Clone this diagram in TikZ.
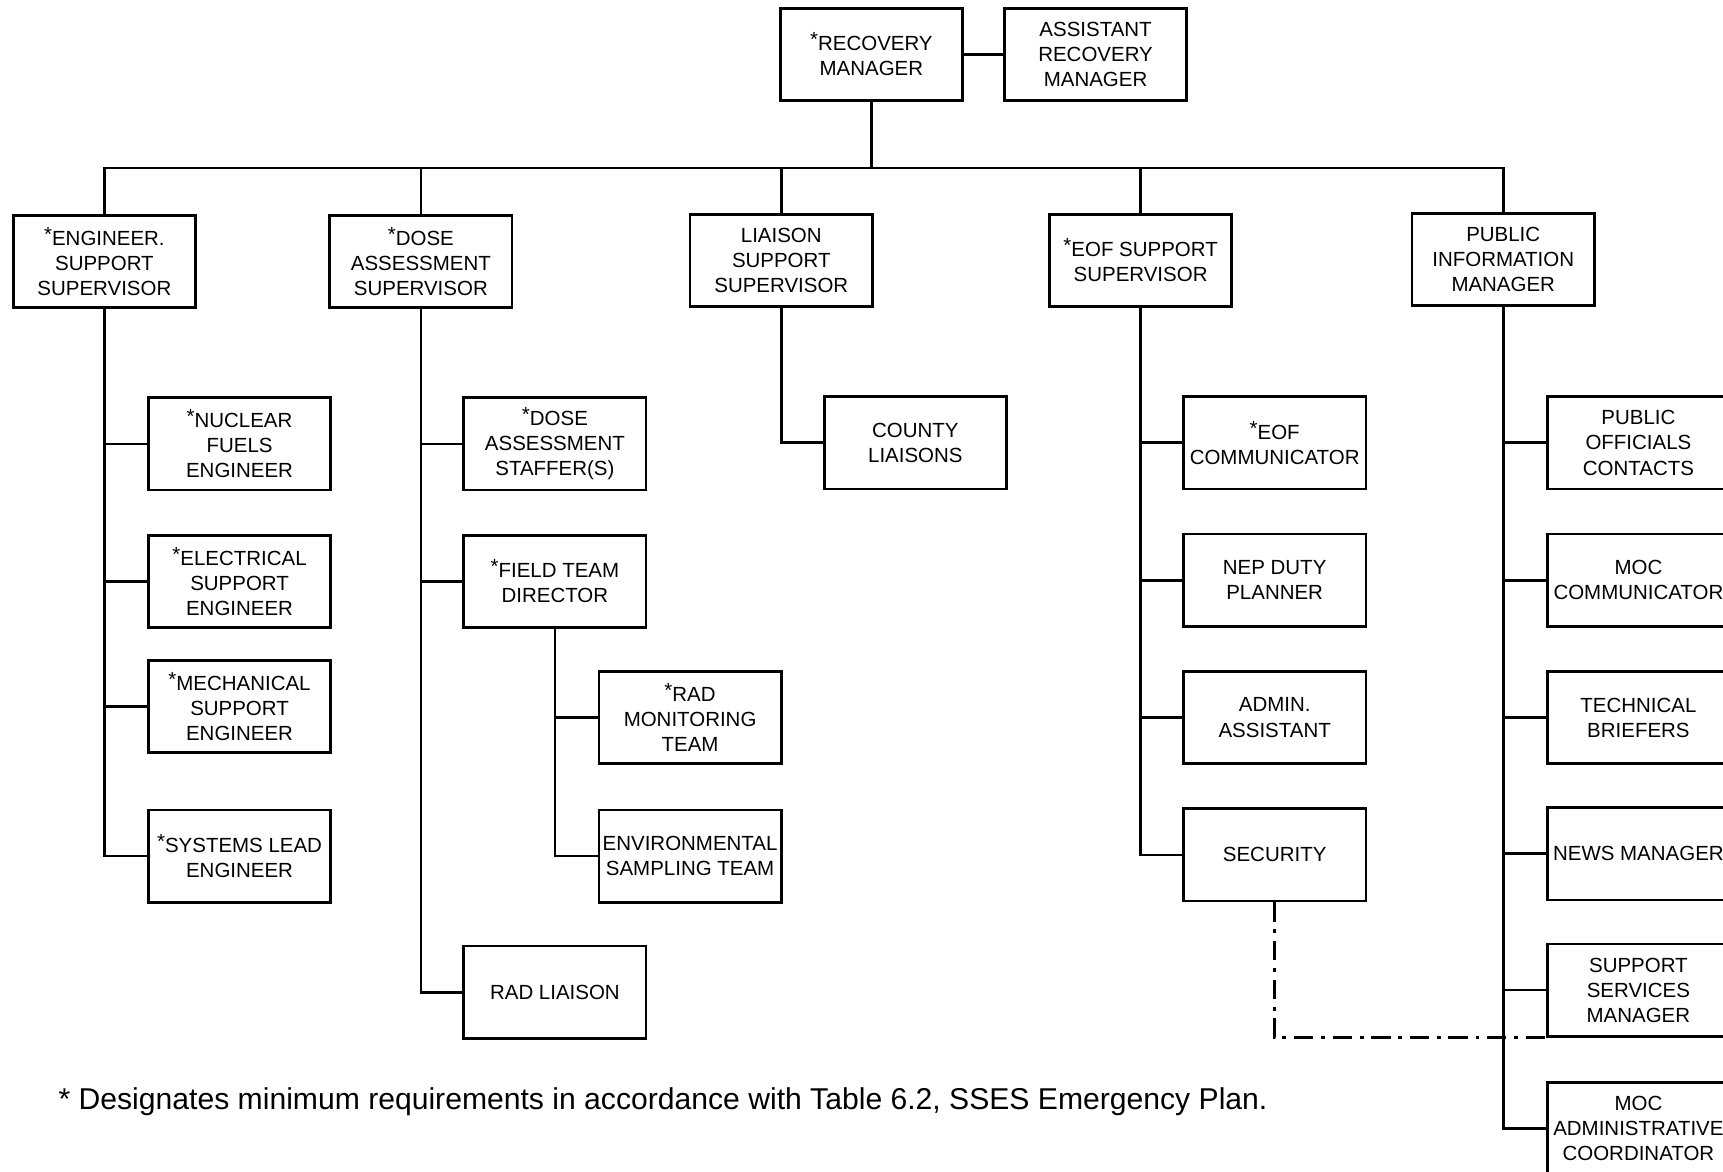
\documentclass[tikz,border=0pt]{standalone}
\usepackage{fontspec}
\setmainfont{Liberation Sans}
\usepackage{tikz}

\newcommand{\req}{\raisebox{0.35ex}{*}}

\begin{document}
\begin{tikzpicture}[x=0.2mm, y=-0.2mm,
        box/.style={draw, line width=1.4pt, minimum width=33.2mm, minimum height=16.8mm,
            inner xsep=1pt, align=center, font=\fontsize{10.6}{13}\selectfont},
        link/.style={line width=1.4pt},
        dotlink/.style={line width=1.4pt, dash pattern=on 10pt off 4pt on 2pt off 4pt}]
        \useasboundingbox (0,0) rectangle (1568,1066);
        \clip (0,0) rectangle (1568,1066);

        % Recovery manager and assistant
        \node[box] (rm) at (793,49.5) {\req RECOVERY\\MANAGER};
        \node[box] (arm) at (997,49.5) {ASSISTANT\\RECOVERY\\MANAGER};
        \draw[link] (rm) -- (arm);
        \coordinate (bus) at (793,153);
        \draw[link] (rm) -- (bus);

        % Supervisors row
        \node[box] (eng) at (95,238) {\req ENGINEER.\\SUPPORT\\SUPERVISOR};
        \node[box] (dose) at (383,238) {\req DOSE\\ASSESSMENT\\SUPERVISOR};
        \node[box] (lss) at (711,237) {LIAISON\\SUPPORT\\SUPERVISOR};
        \node[box] (eofs) at (1038,237) {\req EOF SUPPORT\\SUPERVISOR};
        \node[box] (pim) at (1368,236) {PUBLIC\\INFORMATION\\MANAGER};
        \draw[link] (eng.north) -- (eng.north |- bus) -- (pim.north |- bus) -- (pim.north);
        \draw[link] (dose.north) -- (dose.north |- bus);
        \draw[link] (lss.north) -- (lss.north |- bus);
        \draw[link] (eofs.north) -- (eofs.north |- bus);

        % Engineering column
        \node[box] (nuc) at (218,404) {\req NUCLEAR\\FUELS\\ENGINEER};
        \node[box] (elec) at (218,529) {\req ELECTRICAL\\SUPPORT\\ENGINEER};
        \node[box] (mech) at (218,643) {\req MECHANICAL\\SUPPORT\\ENGINEER};
        \node[box] (sys) at (218,779) {\req SYSTEMS LEAD\\ENGINEER};
        \draw[link] (eng.south) |- (sys.west);
        \draw[link] (nuc.west) -- (nuc.west -| eng.south);
        \draw[link] (elec.west) -- (elec.west -| eng.south);
        \draw[link] (mech.west) -- (mech.west -| eng.south);

        % Dose assessment column
        \node[box] (das) at (505,404) {\req DOSE\\ASSESSMENT\\STAFFER(S)};
        \node[box] (ftd) at (505,529) {\req FIELD TEAM\\DIRECTOR};
        \node[box] (radl) at (505,903) {RAD LIAISON};
        \draw[link] (dose.south) |- (radl.west);
        \draw[link] (das.west) -- (das.west -| dose.south);
        \draw[link] (ftd.west) -- (ftd.west -| dose.south);

        % Field teams
        \node[box] (rmt) at (628,653) {\req RAD\\MONITORING\\TEAM};
        \node[box] (env) at (628,779) {ENVIRONMENTAL\\SAMPLING TEAM};
        \draw[link] (ftd.south) |- (env.west);
        \draw[link] (rmt.west) -- (rmt.west -| ftd.south);

        % Liaison column
        \node[box] (cty) at (833,403) {COUNTY\\LIAISONS};
        \draw[link] (lss.south) |- (cty.west);

        % EOF support column
        \node[box] (eofc) at (1160,403) {\req EOF\\COMMUNICATOR};
        \node[box] (nep) at (1160,528) {NEP DUTY\\PLANNER};
        \node[box] (adm) at (1160,653) {ADMIN.\\ASSISTANT};
        \node[box] (sec) at (1160,778) {SECURITY};
        \draw[link] (eofs.south) |- (sec.west);
        \draw[link] (eofc.west) -- (eofc.west -| eofs.south);
        \draw[link] (nep.west) -- (nep.west -| eofs.south);
        \draw[link] (adm.west) -- (adm.west -| eofs.south);

        % Public information column
        \node[box] (poc) at (1491,403) {PUBLIC\\OFFICIALS\\CONTACTS};
        \node[box] (mocc) at (1491,528) {MOC\\COMMUNICATOR};
        \node[box] (tb) at (1491,653) {TECHNICAL\\BRIEFERS};
        \node[box] (news) at (1491,777) {NEWS MANAGER};
        \node[box] (ssm) at (1491,901) {SUPPORT\\SERVICES\\MANAGER};
        \node[box] (moca) at (1491,1027) {MOC\\ADMINISTRATIVE\\COORDINATOR};
        \draw[link] (pim.south) |- (moca.west);
        \draw[link] (poc.west) -- (poc.west -| pim.south);
        \draw[link] (mocc.west) -- (mocc.west -| pim.south);
        \draw[link] (tb.west) -- (tb.west -| pim.south);
        \draw[link] (news.west) -- (news.west -| pim.south);
        \draw[link] (ssm.west) -- (ssm.west -| pim.south);

        % Security to support services
        \draw[dotlink] (sec.south) |- (ssm.south west);

        % Footnote
        \node[anchor=west, inner sep=0pt, font=\fontsize{15.6}{18}\selectfont] (note) at (53,1003)
            {* Designates minimum requirements in accordance with Table 6.2, SSES Emergency Plan.};
\end{tikzpicture}
\end{document}
